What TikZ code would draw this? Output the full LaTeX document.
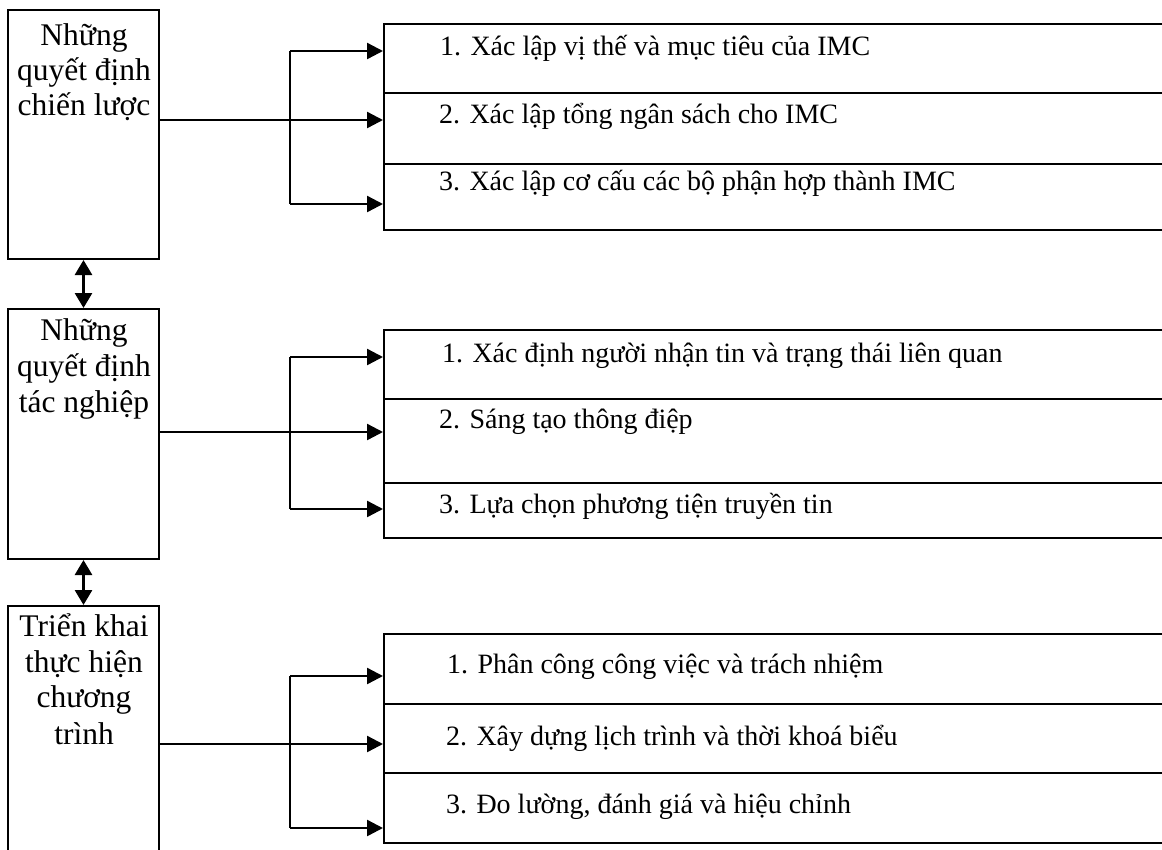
\documentclass[tikz,border=0pt]{standalone}
\usepackage{fontspec}
\setmainfont{Liberation Serif}
\usetikzlibrary{arrows.meta}
\begin{document}
\begin{tikzpicture}[x=1pt,y=-1pt,
  box/.style={draw,line width=2pt,inner sep=0pt},
  lefttxt/.style={anchor=base,inner sep=0pt,font=\fontsize{31.5}{36}\selectfont},
  righttxt/.style={anchor=base west,inner sep=0pt,font=\fontsize{28}{32}\selectfont},
  conn/.style={line width=2.4pt},
  arr/.style={line width=2.4pt,-{Triangle[length=16pt,width=16pt]}},
  darr/.style={line width=2.8pt,{Triangle[length=15pt,width=17pt]}-{Triangle[length=15pt,width=17pt]}}]
\useasboundingbox (0,0) rectangle (1162,849);
\clip (0,0) rectangle (1162,849);
\fill[white] (0,0) rectangle (1162,849);
% left boxes
\node[box,minimum width=151pt,minimum height=249pt] (L1) at (83.5,134.5) {};
\node[box,minimum width=151pt,minimum height=250pt] (L2) at (83.5,434) {};
\node[box,minimum width=151pt,minimum height=280pt] (L3) at (83.5,746) {};
% left texts
\node[lefttxt] (L1a) at (84,45) {Những};
\node[lefttxt] (L1b) at (84,80) {quyết định};
\node[lefttxt] (L1c) at (84,115) {chiến lược};
\node[lefttxt] (L2a) at (84,340) {Những};
\node[lefttxt] (L2b) at (84,376) {quyết định};
\node[lefttxt] (L2c) at (84,412) {tác nghiệp};
\node[lefttxt] (L3a) at (84,636) {Triển khai};
\node[lefttxt] (L3b) at (84,672) {thực hiện};
\node[lefttxt] (L3c) at (84,707) {chương};
\node[lefttxt] (L3d) at (84,744) {trình};
% double arrows
\draw[darr] (L1.south) -- (L2.north);
\draw[darr] (L2.south) -- (L3.north);
% right rows group 1
\node[box,anchor=north west,minimum width=800pt,minimum height=69pt] (R11) at (383,23) {};
\node[box,anchor=north west,minimum width=800pt,minimum height=71pt] (R12) at (383,92) {};
\node[box,anchor=north west,minimum width=800pt,minimum height=66pt] (R13) at (383,163) {};
\node[righttxt] (T11) at (440,55) {1. Xác lập vị thế và mục tiêu của IMC};
\node[righttxt] (T12) at (439,123) {2. Xác lập tổng ngân sách cho IMC};
\node[righttxt] (T13) at (439,190) {3. Xác lập cơ cấu các bộ phận hợp thành IMC};
% right rows group 2
\node[box,anchor=north west,minimum width=800pt,minimum height=69pt] (R21) at (383,329) {};
\node[box,anchor=north west,minimum width=800pt,minimum height=84pt] (R22) at (383,398) {};
\node[box,anchor=north west,minimum width=800pt,minimum height=55pt] (R23) at (383,482) {};
\node[righttxt] (T21) at (442,362) {1. Xác định người nhận tin và trạng thái liên quan};
\node[righttxt] (T22) at (439,428) {2. Sáng tạo thông điệp};
\node[righttxt] (T23) at (439,513) {3. Lựa chọn phương tiện truyền tin};
% right rows group 3
\node[box,anchor=north west,minimum width=800pt,minimum height=70pt] (R31) at (383,633) {};
\node[box,anchor=north west,minimum width=800pt,minimum height=69pt] (R32) at (383,703) {};
\node[box,anchor=north west,minimum width=800pt,minimum height=70pt] (R33) at (383,772) {};
\node[righttxt] (T31) at (447,673) {1. Phân công công việc và trách nhiệm};
\node[righttxt] (T32) at (446,745) {2. Xây dựng lịch trình và thời khoá biểu};
\node[righttxt] (T33) at (446,813) {3. Đo lường, đánh giá và hiệu chỉnh};
% connector coordinates
\coordinate (B1) at (290,120);
\coordinate (a11) at (383,51);
\coordinate (a12) at (383,120);
\coordinate (a13) at (383,204);
\coordinate (B2) at (290,432);
\coordinate (a21) at (383,357);
\coordinate (a22) at (383,432);
\coordinate (a23) at (383,509);
\coordinate (B3) at (290,744);
\coordinate (a31) at (383,676);
\coordinate (a32) at (383,744);
\coordinate (a33) at (383,828);
% connectors group 1
\draw[conn] (L1.east |- B1) -- (B1);
\draw[conn] (B1 |- a11) -- (B1 |- a13);
\draw[arr] (B1 |- a11) -- (a11);
\draw[arr] (B1 |- a12) -- (a12);
\draw[arr] (B1 |- a13) -- (a13);
% connectors group 2
\draw[conn] (L2.east |- B2) -- (B2);
\draw[conn] (B2 |- a21) -- (B2 |- a23);
\draw[arr] (B2 |- a21) -- (a21);
\draw[arr] (B2 |- a22) -- (a22);
\draw[arr] (B2 |- a23) -- (a23);
% connectors group 3
\draw[conn] (L3.east |- B3) -- (B3);
\draw[conn] (B3 |- a31) -- (B3 |- a33);
\draw[arr] (B3 |- a31) -- (a31);
\draw[arr] (B3 |- a32) -- (a32);
\draw[arr] (B3 |- a33) -- (a33);
\end{tikzpicture}
\end{document}
